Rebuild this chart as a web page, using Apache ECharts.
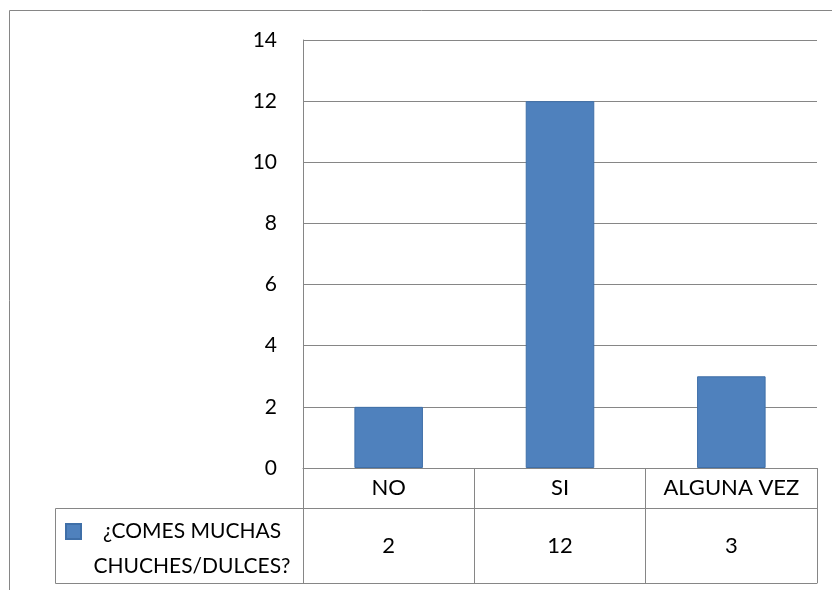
<!DOCTYPE html>
<html><head><meta charset="utf-8">
<script src="https://cdn.jsdelivr.net/npm/echarts@6/dist/echarts.min.js"></script>
<style>html,body{margin:0;padding:0;background:#fff}#c{width:832px;height:590px}</style>
</head><body><div id="c"></div>
<script>
const categories = ['NO', 'SI', 'ALGUNA VEZ'];
const seriesName = '¿COMES MUCHAS CHUCHES/DULCES?';
const legendLines = ['¿COMES MUCHAS', 'CHUCHES/DULCES?'];
const values = [2, 12, 3];
const yTicks = { min: 0, max: 14, interval: 2 };

const FONT = 'Lato';
const GRAY = '#868686';
const chart = echarts.init(document.getElementById('c'), null, { renderer: 'canvas' });
chart.setOption({
  animation: false,
  backgroundColor: '#fff',
  grid: { left: 303, right: 15, top: 40, bottom: 122 },
  legend: {
    left: 65, top: 523, padding: 0, icon: 'rect', itemWidth: 15, itemHeight: 15, itemGap: 0,
    data: [seriesName],
    formatter: () => '',
    textStyle: { fontFamily: FONT, fontSize: 1 }
  },
  xAxis: [
    {
      type: 'category', data: categories, position: 'bottom',
      axisLine: { show: true, lineStyle: { color: GRAY, width: 1 } },
      axisTick: { show: true, interval: 0, length: 115, lineStyle: { color: GRAY, width: 1 } },
      axisLabel: { interval: 0, hideOverlap: false, margin: 9, fontFamily: FONT, fontSize: 22, color: '#000' }
    },
    {
      type: 'category', data: values.map(String), position: 'bottom', offset: 40,
      axisLine: { show: true, lineStyle: { color: GRAY, width: 1 } },
      axisTick: { show: false },
      axisLabel: { interval: 0, margin: 27, fontFamily: FONT, fontSize: 22, color: '#000' }
    },
    {
      type: 'category', data: categories, position: 'bottom', offset: 115,
      axisLine: { show: true, lineStyle: { color: GRAY, width: 1 } },
      axisTick: { show: false }, axisLabel: { show: false }
    }
  ],
  yAxis: {
    type: 'value', min: yTicks.min, max: yTicks.max, interval: yTicks.interval,
    axisLine: { show: true, lineStyle: { color: GRAY, width: 1 } },
    axisTick: { show: false },
    splitLine: { lineStyle: { color: GRAY, width: 1 } },
    axisLabel: { margin: 26, fontFamily: FONT, fontSize: 21, color: '#000' }
  },
  series: [{
    name: seriesName, type: 'bar', data: values, xAxisIndex: 0,
    barCategoryGap: '60%',
    itemStyle: { color: '#4F81BD', borderColor: '#3F6FA8', borderWidth: 1 }
  }],
  graphic: [
    { type: 'rect', shape: { x: 9.5, y: 10.5, width: 900, height: 700 }, style: { fill: null, stroke: GRAY, lineWidth: 1 }, silent: true, z: -1 },
    { type: 'rect', shape: { x: 55.5, y: 508.5, width: 248, height: 75 }, style: { fill: null, stroke: GRAY, lineWidth: 1 }, silent: true },
    { type: 'text', x: 192, y: 514, silent: true,
      style: { text: legendLines.join('\n'), font: '21px ' + FONT, fill: '#000', textAlign: 'center', textVerticalAlign: 'top', lineHeight: 35 } }
  ]
});
</script></body></html>
